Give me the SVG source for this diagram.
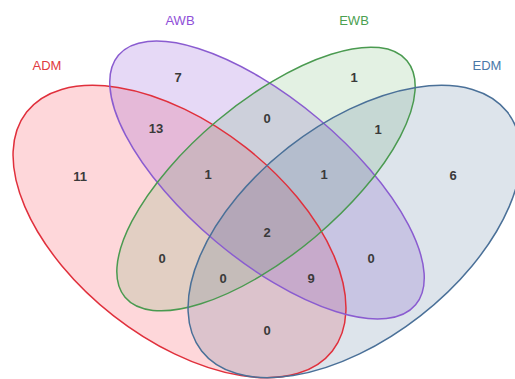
<svg xmlns="http://www.w3.org/2000/svg" xmlns:xlink="http://www.w3.org/1999/xlink" width="515" height="379" viewBox="0 0 515 379">
<style>
.num{font-family:"Liberation Sans",Arial,sans-serif;font-size:13px;font-weight:bold;fill:#3a3a3a;text-anchor:middle;dominant-baseline:central}
.lab{font-family:"Liberation Sans",Arial,sans-serif;font-size:13px;text-anchor:middle;dominant-baseline:central}
.ol{fill:none;stroke-width:1.5}
</style>
<defs>
<ellipse id="e-adm" cx="0" cy="0" rx="194" ry="107" transform="translate(179.5,231.5) rotate(38)"/>
<ellipse id="e-awb" cx="0" cy="0" rx="194" ry="80" transform="translate(267,180) rotate(40)"/>
<ellipse id="e-ewb" cx="0" cy="0" rx="184" ry="76" transform="translate(266,179) rotate(-40)"/>
<ellipse id="e-edm" cx="0" cy="0" rx="194" ry="107" transform="translate(354.5,231.5) rotate(-38)"/>
</defs>
<rect width="515" height="379" fill="#fff"/>
<g id="ADM">
<use xlink:href="#e-adm" fill="#f83848" fill-opacity="0.2"/>
<text class="lab" x="47" y="65" fill="#e03a40">ADM</text>
</g>
<g id="AWB">
<use xlink:href="#e-awb" fill="#8040d0" fill-opacity="0.2"/>
<text class="lab" x="180" y="20" fill="#9050d8">AWB</text>
</g>
<g id="EWB">
<use xlink:href="#e-ewb" fill="#40a040" fill-opacity="0.15"/>
<text class="lab" x="354" y="20" fill="#4aa050">EWB</text>
</g>
<g id="EDM">
<use xlink:href="#e-edm" fill="#406890" fill-opacity="0.18"/>
<text class="lab" x="487" y="65" fill="#4a78a8">EDM</text>
</g>
<g id="outlines">
<use xlink:href="#e-adm" class="ol" stroke="#e0303c"/>
<use xlink:href="#e-awb" class="ol" stroke="#8a5cd0"/>
<use xlink:href="#e-ewb" class="ol" stroke="#4a9a50"/>
<use xlink:href="#e-edm" class="ol" stroke="#4a7098"/>
</g>
<g id="counts">
<text class="num" x="80" y="176">11</text>
<text class="num" x="178" y="77">7</text>
<text class="num" x="156" y="128">13</text>
<text class="num" x="208" y="174">1</text>
<text class="num" x="267" y="118">0</text>
<text class="num" x="354" y="77">1</text>
<text class="num" x="378" y="129">1</text>
<text class="num" x="324" y="174">1</text>
<text class="num" x="453" y="175">6</text>
<text class="num" x="267" y="232">2</text>
<text class="num" x="162" y="258">0</text>
<text class="num" x="223" y="278">0</text>
<text class="num" x="311" y="278">9</text>
<text class="num" x="371" y="258">0</text>
<text class="num" x="267" y="330">0</text>
</g>
</svg>
